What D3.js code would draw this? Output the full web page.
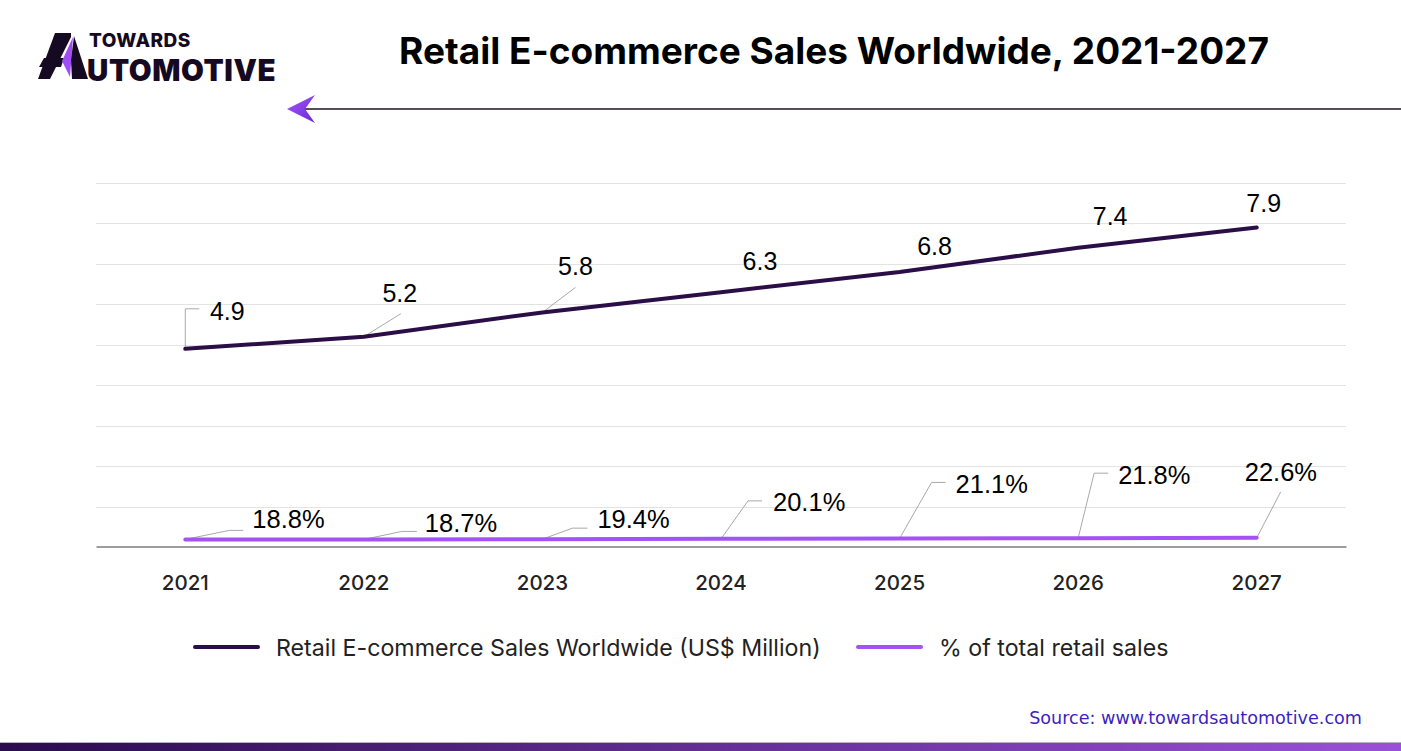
<!DOCTYPE html>
<html>
<head>
<meta charset="utf-8">
<script src="https://cdn.jsdelivr.net/npm/d3@7"></script>
<style>
  html, body { margin: 0; padding: 0; background: #fff; }
  svg { display: block; }
</style>
</head>
<body>
<svg id="chart" width="1401" height="751"></svg>
<script>
// ---- data ----
const years = ["2021", "2022", "2023", "2024", "2025", "2026", "2027"];
const salesValues = [4.9, 5.2, 5.8, 6.3, 6.8, 7.4, 7.9];
const shareValues = [18.8, 18.7, 19.4, 20.1, 21.1, 21.8, 22.6];
const yTicks = [0, 1, 2, 3, 4, 5, 6, 7, 8, 9];
const seriesNames = ["Retail E-commerce Sales Worldwide (US$ Million)", "% of total retail sales"];
const titleText = "Retail E-commerce Sales Worldwide, 2021-2027";
const sourceText = "Source: www.towardsautomotive.com";

// ---- label layout (offsets from each point) ----
const salesLabelOffsets = [
  {dx: 42, dy: -29, leader: [[0,0],[0,-40],[14,-40]]},
  {dx: 36, dy: -35, leader: [[0,0],[37,-23]]},
  {dx: 33, dy: -37, leader: [[0,0],[33,-25]]},
  {dx: 39, dy: -22, leader: null},
  {dx: 35, dy: -17, leader: null},
  {dx: 32, dy: -23, leader: null},
  {dx: 7, dy: -15, leader: null}
];
const shareLabelOffsets = [
  {dx: 67, dy: -11, leader: [[0,0],[44,-9],[58,-9]]},
  {dx: 61, dy: -7, leader: [[0,0],[38,-8],[53,-8]]},
  {dx: 55, dy: -11, leader: [[0,0],[30,-11],[45,-11]]},
  {dx: 52, dy: -28, leader: [[0,0],[27,-38],[41,-38]]},
  {dx: 56, dy: -45, leader: [[0,0],[32,-56],[46,-56]]},
  {dx: 40, dy: -54, leader: [[0,0],[16,-65],[30,-65]]},
  {dx: -12, dy: -57, leader: [[0,0],[24,-46]]}
];

const svg = d3.select("#chart");
const W = 1401, H = 751;
const margin = {left: 96, right: 55, top: 183, bottom: 204};
const plotW = W - margin.left - margin.right;
const plotH = H - margin.top - margin.bottom;

const defs = svg.append("defs");
const barGrad = defs.append("linearGradient").attr("id", "barGrad").attr("x1", "0%").attr("x2", "100%");
barGrad.append("stop").attr("offset", "0%").attr("stop-color", "#2a0c4e");
barGrad.append("stop").attr("offset", "100%").attr("stop-color", "#9a50d8");
const arrowGrad = defs.append("linearGradient").attr("id", "arrowGrad").attr("x1", "0%").attr("x2", "100%").attr("y1", "0%").attr("y2", "100%");
arrowGrad.append("stop").attr("offset", "0%").attr("stop-color", "#a555ff");
arrowGrad.append("stop").attr("offset", "100%").attr("stop-color", "#6a2bd0");

// ---- header: logo ----
const logo = svg.append("g");
logo.append("polygon").attr("points", "55,33 71,33 71,37 50,79 38,79").attr("fill", "#150a22");
logo.append("polygon").attr("points", "44,58 64,58 61,67 39,67").attr("fill", "#150a22");
logo.append("polygon").attr("points", "73,37 62,61 70,77").attr("fill", "#a04df5");
logo.append("polygon").attr("points", "74,36 88,79 72,79 71,60").attr("fill", "#150a22");
logo.append("text").attr("x", 89).attr("y", 47).text("TOWARDS")
  .attr("font-family", "Inter, sans-serif").attr("font-weight", 800).attr("font-size", 19)
  .attr("fill", "#150a22").attr("letter-spacing", "0.5");
logo.append("text").attr("x", 87).attr("y", 80.5).text("UTOMOTIVE")
  .attr("font-family", "Inter, sans-serif").attr("font-weight", 900).attr("font-size", 29.5)
  .attr("fill", "#150a22").attr("letter-spacing", "0.6");

// ---- title ----
svg.append("text").attr("x", 834).attr("y", 64).attr("text-anchor", "middle").text(titleText)
  .attr("font-family", "Inter, sans-serif").attr("font-weight", 700).attr("font-size", 37)
  .attr("fill", "#000");

// ---- arrow ----
svg.append("line").attr("x1", 303).attr("x2", W).attr("y1", 109).attr("y2", 109)
  .attr("stroke", "#1c1228").attr("stroke-width", 1.3);
svg.append("polygon").attr("points", "287,109 315,95 305,109 315,123").attr("fill", "url(#arrowGrad)");

// ---- scales ----
const x = d3.scaleBand().domain(years).range([margin.left, margin.left + plotW]);
const xc = d => x(d) + x.bandwidth() / 2;
const y = d3.scaleLinear().domain([0, 9]).range([margin.top + plotH, margin.top]);

// gridlines
svg.append("g").selectAll("line").data(yTicks.filter(t => t > 0)).join("line")
  .attr("x1", margin.left).attr("x2", margin.left + plotW)
  .attr("y1", d => Math.round(y(d)) + 0.5).attr("y2", d => Math.round(y(d)) + 0.5)
  .attr("stroke", "#e3e3e3").attr("stroke-width", 1);

// x axis
const xAxis = svg.append("g").attr("transform", `translate(0,${Math.round(y(0)) - 0.5})`)
  .call(d3.axisBottom(x).tickSize(0).tickPadding(29));
xAxis.select(".domain").attr("stroke", "#3a3a3a").attr("stroke-width", 1);
xAxis.selectAll("text").attr("font-family", "Inter, sans-serif").attr("font-size", 20.5)
  .attr("font-weight", 500).attr("fill", "#222");

// lines
const salesData = years.map((yr, i) => ({yr, v: salesValues[i]}));
const shareData = years.map((yr, i) => ({yr, v: shareValues[i] / 100}));
const lineGen = d3.line().x(d => xc(d.yr)).y(d => y(d.v));

// leaders
function drawLeaders(data, offsets) {
  svg.append("g").selectAll("path").data(data.filter((d, i) => offsets[i].leader)).join("path")
    .attr("d", d => {
      const o = offsets[data.indexOf(d)];
      return d3.line()(o.leader.map(p => [xc(d.yr) + p[0], y(d.v) + p[1]]));
    })
    .attr("fill", "none").attr("stroke", "#a9a9a9").attr("stroke-width", 1);
}
drawLeaders(salesData, salesLabelOffsets);
drawLeaders(shareData, shareLabelOffsets);

svg.append("path").datum(shareData).attr("d", lineGen)
  .attr("fill", "none").attr("stroke", "#a452f5").attr("stroke-width", 4).attr("stroke-linecap", "round");
svg.append("path").datum(salesData).attr("d", lineGen)
  .attr("fill", "none").attr("stroke", "#2b0d47").attr("stroke-width", 4).attr("stroke-linecap", "round");

// labels
svg.append("g").selectAll("text").data(salesData).join("text")
  .attr("x", (d, i) => xc(d.yr) + salesLabelOffsets[i].dx)
  .attr("y", (d, i) => y(d.v) + salesLabelOffsets[i].dy)
  .attr("text-anchor", "middle").text(d => d.v.toFixed(1))
  .attr("font-family", "'Liberation Sans', Arial, sans-serif").attr("font-size", 25).attr("fill", "#000");
svg.append("g").selectAll("text").data(shareData).join("text")
  .attr("x", (d, i) => xc(d.yr) + shareLabelOffsets[i].dx)
  .attr("y", (d, i) => y(d.v) + shareLabelOffsets[i].dy)
  .attr("text-anchor", "start").text((d, i) => shareValues[i].toFixed(1) + "%")
  .attr("font-family", "'Liberation Sans', Arial, sans-serif").attr("font-size", 25.5).attr("fill", "#000");

// legend
const legend = svg.append("g");
const legendItems = [
  {name: seriesNames[0], color: "#2b0d47", x: 195},
  {name: seriesNames[1], color: "#a452f5", x: 858}
];
legendItems.forEach(it => {
  legend.append("line").attr("x1", it.x).attr("x2", it.x + 63).attr("y1", 647).attr("y2", 647)
    .attr("stroke", it.color).attr("stroke-width", 4).attr("stroke-linecap", "round");
  legend.append("text").attr("x", it.x + 81).attr("y", 655.5).text(it.name)
    .attr("font-family", "Inter, sans-serif").attr("font-size", 23.2).attr("fill", "#222");
});

// source
svg.append("text").attr("x", 1362).attr("y", 724).attr("text-anchor", "end").text(sourceText)
  .attr("font-family", "'DejaVu Sans', sans-serif").attr("font-size", 17.6).attr("fill", "#3d1fbf");

// bottom bar
svg.append("rect").attr("x", 0).attr("y", 742).attr("width", W).attr("height", 1).attr("fill", "#b9b0c4");
svg.append("rect").attr("x", 0).attr("y", 743).attr("width", W).attr("height", 8).attr("fill", "url(#barGrad)");
</script>
</body>
</html>
